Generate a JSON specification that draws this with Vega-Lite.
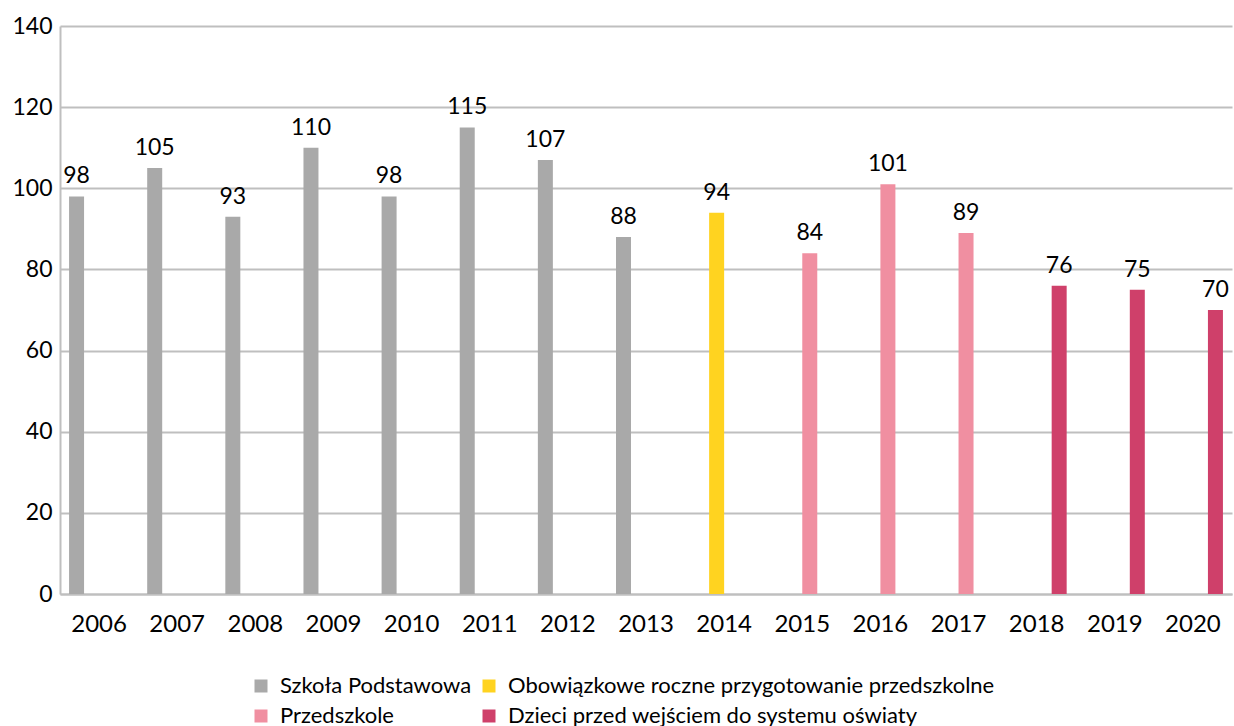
{
  "$schema": "https://vega.github.io/schema/vega-lite/v6.json",
  "width": 1172,
  "height": 568,
  "autosize": {"type": "none"},
  "padding": {"left": 60, "top": 26, "right": 2, "bottom": 132},
  "background": "white",
  "config": {
    "font": "Lato",
    "view": {"stroke": null},
    "axis": {"labelFont": "Lato", "labelColor": "#000000"},
    "legend": {"labelFont": "Lato"}
  },
  "data": {
    "values": [
      {"rok": "2006", "seria": "Szkoła Podstawowa", "wartosc": 98},
      {"rok": "2007", "seria": "Szkoła Podstawowa", "wartosc": 105},
      {"rok": "2008", "seria": "Szkoła Podstawowa", "wartosc": 93},
      {"rok": "2009", "seria": "Szkoła Podstawowa", "wartosc": 110},
      {"rok": "2010", "seria": "Szkoła Podstawowa", "wartosc": 98},
      {"rok": "2011", "seria": "Szkoła Podstawowa", "wartosc": 115},
      {"rok": "2012", "seria": "Szkoła Podstawowa", "wartosc": 107},
      {"rok": "2013", "seria": "Szkoła Podstawowa", "wartosc": 88},
      {"rok": "2014", "seria": "Obowiązkowe roczne przygotowanie przedszkolne", "wartosc": 94},
      {"rok": "2015", "seria": "Przedszkole", "wartosc": 84},
      {"rok": "2016", "seria": "Przedszkole", "wartosc": 101},
      {"rok": "2017", "seria": "Przedszkole", "wartosc": 89},
      {"rok": "2018", "seria": "Dzieci przed wejściem do systemu oświaty", "wartosc": 76},
      {"rok": "2019", "seria": "Dzieci przed wejściem do systemu oświaty", "wartosc": 75},
      {"rok": "2020", "seria": "Dzieci przed wejściem do systemu oświaty", "wartosc": 70}
    ]
  },
  "encoding": {
    "x": {
      "field": "rok",
      "type": "nominal",
      "scale": {"paddingInner": 0.232, "paddingOuter": 0.116},
      "axis": {
        "title": null,
        "labelAngle": 0,
        "labelFontSize": 24,
        "labelPadding": 18,
        "ticks": false,
        "domainColor": "#bfbfbf",
        "domainWidth": 2,
        "grid": false
      }
    },
    "xOffset": {
      "field": "seria",
      "type": "nominal",
      "scale": {
        "domain": ["Szkoła Podstawowa", "Obowiązkowe roczne przygotowanie przedszkolne", "Przedszkole", "Dzieci przed wejściem do systemu oświaty"],
        "paddingInner": 0,
        "paddingOuter": 0
      }
    },
    "y": {
      "field": "wartosc",
      "type": "quantitative",
      "scale": {"domain": [0, 140]},
      "axis": {
        "title": null,
        "values": [0, 20, 40, 60, 80, 100, 120, 140],
        "labelFontSize": 23,
        "labelPadding": 8,
        "ticks": false,
        "domainColor": "#bfbfbf",
        "domainWidth": 2,
        "gridColor": "#bfbfbf",
        "gridWidth": 2
      }
    }
  },
  "layer": [
    {
      "mark": {"type": "bar"},
      "encoding": {
        "color": {
          "field": "seria",
          "type": "nominal",
          "scale": {
            "domain": ["Szkoła Podstawowa", "Obowiązkowe roczne przygotowanie przedszkolne", "Przedszkole", "Dzieci przed wejściem do systemu oświaty"],
            "range": ["#a9a9a9", "#ffd320", "#f08fa1", "#cf406a"]
          },
          "legend": {
            "title": null,
            "orient": "none",
            "legendX": 190,
            "legendY": 649,
            "direction": "horizontal",
            "columns": 2,
            "columnPadding": 6,
            "rowPadding": 8,
            "symbolType": "square",
            "symbolSize": 169,
            "symbolStrokeWidth": 0,
            "labelFontSize": 22,
            "labelOffset": 8,
            "labelColor": "#000000",
            "labelLimit": 700
          }
        }
      }
    },
    {
      "mark": {"type": "text", "baseline": "alphabetic", "dy": -13, "fontSize": 23, "color": "#000000"},
      "encoding": {
        "text": {"field": "wartosc", "type": "quantitative"}
      }
    }
  ]
}
